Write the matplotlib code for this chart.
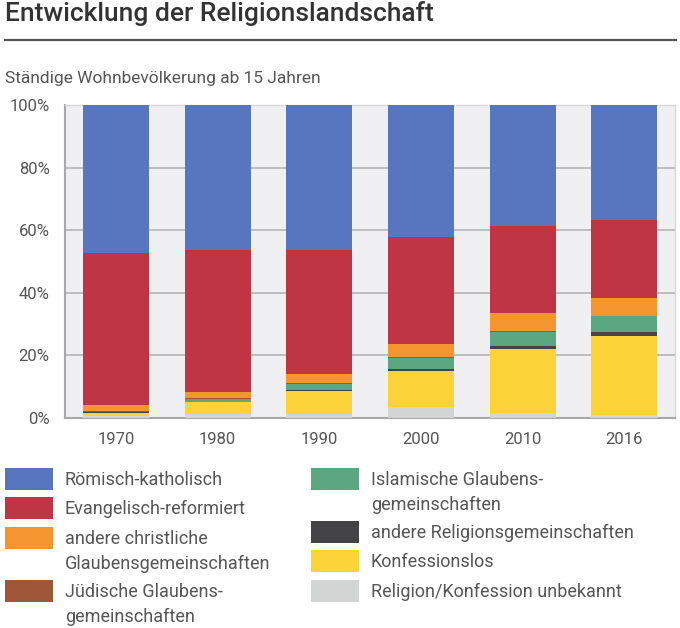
import matplotlib
matplotlib.use("Agg")
import matplotlib.pyplot as plt
from matplotlib.patches import Rectangle
import numpy as np

plt.rcParams['font.family'] = ['Roboto', 'DejaVu Sans']

years = ["1970", "1980", "1990", "2000", "2010", "2016"]

# stacked from bottom to top
unbekannt      = [0.5, 1.2, 1.4, 3.6, 1.7, 1.1]
konfessionslos = [1.2, 3.8, 7.1, 11.3, 20.3, 25.0]
andere_rel     = [0.1, 0.1, 0.4, 0.7, 1.0, 1.3]
islamisch      = [0.2, 0.9, 2.0, 3.7, 4.5, 5.1]
juedisch       = [0.3, 0.3, 0.3, 0.2, 0.2, 0.2]
andere_christ  = [2.0, 2.0, 3.0, 4.1, 5.7, 5.5]
evangelisch    = [48.5, 45.4, 39.6, 34.1, 28.0, 25.0]
katholisch     = [47.2, 46.3, 46.2, 42.3, 38.6, 36.8]

series = [
    ("Religion/Konfession unbekannt", unbekannt, "#d3d5d5"),
    ("Konfessionslos", konfessionslos, "#fdd33a"),
    ("andere Religionsgemeinschaften", andere_rel, "#444447"),
    ("Islamische Glaubens-\ngemeinschaften", islamisch, "#5aa782"),
    ("Jüdische Glaubens-\ngemeinschaften", juedisch, "#9e5538"),
    ("andere christliche\nGlaubensgemeinschaften", andere_christ, "#f4952f"),
    ("Evangelisch-reformiert", evangelisch, "#c03545"),
    ("Römisch-katholisch", katholisch, "#5876bf"),
]

W, H = 680, 628
fig = plt.figure(figsize=(W / 100, H / 100), dpi=100)

# Title and rule
fig.text(5 / W, 1 - 21.5 / H, "Entwicklung der Religionslandschaft", fontsize=19,
         fontweight='medium', color="#333333", va='baseline', ha='left')
fig.add_artist(plt.Line2D([5 / W, 676 / W], [1 - 40 / H, 1 - 40 / H],
                          color="#555555", lw=1.6, transform=fig.transFigure))
fig.text(5 / W, 1 - 83 / H, "Ständige Wohnbevölkerung ab 15 Jahren", fontsize=12.5,
         color="#555555", va='baseline', ha='left')

ax = fig.add_axes([65 / W, 210 / H, 610 / W, 313 / H])
ax.set_facecolor("#f0f0f2")
x = np.arange(len(years))
bottom = np.zeros(len(years))
for label, vals, col in series:
    ax.bar(x, vals, bottom=bottom, width=0.65, color=col, zorder=3, linewidth=0)
    bottom += np.array(vals)

ax.set_xlim(-0.502, 5.50)
ax.set_ylim(0, 100)
ax.set_yticks([0, 20, 40, 60, 80, 100])
ax.set_yticklabels(["0%", "20%", "40%", "60%", "80%", "100%"])
ax.set_xticks(x)
ax.set_xticklabels(years)
ax.yaxis.grid(True, color="#b5b5b5", lw=1.2, zorder=1)
ax.tick_params(axis='both', length=0, labelsize=12, labelcolor="#555555")
ax.tick_params(axis='y', pad=11)
ax.tick_params(axis='x', pad=10)
for s in ['top', 'right']:
    ax.spines[s].set_color("#d8d8d8")
    ax.spines[s].set_linewidth(1.0)
for s in ['left', 'bottom']:
    ax.spines[s].set_color("#a8a8a8")
    ax.spines[s].set_linewidth(1.5)

# Legend (manual layout, two columns)
legend_items = {lab: col for lab, _, col in series}
left_col = [("Römisch-katholisch", 468), ("Evangelisch-reformiert", 497),
            ("andere christliche\nGlaubensgemeinschaften", 527),
            ("Jüdische Glaubens-\ngemeinschaften", 580)]
right_col = [("Islamische Glaubens-\ngemeinschaften", 468),
             ("andere Religionsgemeinschaften", 521),
             ("Konfessionslos", 550),
             ("Religion/Konfession unbekannt", 580)]
for items, sx, tx in [(left_col, 5, 65), (right_col, 311, 371)]:
    for lab, top in items:
        fig.add_artist(Rectangle((sx / W, 1 - (top + 22) / H), 48 / W, 22 / H,
                                 transform=fig.transFigure,
                                 color=legend_items[lab], lw=0))
        lines = lab.split("\n")
        for i, ln in enumerate(lines):
            fig.text(tx / W, 1 - (top + 17 + 25 * i) / H, ln, fontsize=13,
                     color="#555555", va='baseline', ha='left')

fig.savefig("out.png", dpi=100)
